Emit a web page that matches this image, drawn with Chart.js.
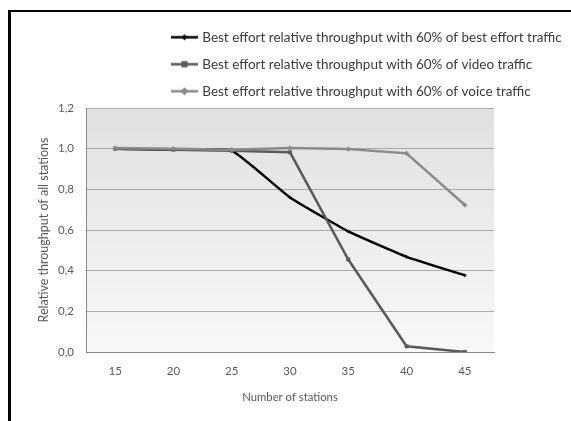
<!DOCTYPE html>
<html><head><meta charset="utf-8">
<script src="https://cdn.jsdelivr.net/npm/chart.js@4/dist/chart.umd.min.js"></script>
<style>
html,body{margin:0;padding:0;background:#fff;overflow:hidden;}
body{width:571px;height:421px;position:relative;}
#fl{position:absolute;left:8px;top:10px;width:3px;height:420px;background:#000;}
#ft{position:absolute;left:8px;top:10px;width:570px;height:2px;background:#000;}
#wrap{position:absolute;left:0;top:0;width:571px;height:421px;}
</style></head><body>
<div id="fl"></div><div id="ft"></div>
<div id="wrap"><canvas id="c" width="571" height="421"></canvas></div>
<script>
// ---- data ----
const stations = ['15', '20', '25', '30', '35', '40', '45'];
const bestEffortTraffic = [1.0, 0.995, 0.99, 0.76, 0.593, 0.468, 0.377];
const videoTraffic = [1.0, 0.995, 0.99, 0.982, 0.455, 0.028, 0.0];
const voiceTraffic = [1.003, 1.0, 0.995, 1.003, 0.998, 0.977, 0.723];
const seriesNames = [
  'Best effort relative throughput with 60% of best effort traffic',
  'Best effort relative throughput with 60% of video traffic',
  'Best effort relative throughput with 60% of voice traffic'
];
const yTickLabels = ['0,0', '0,2', '0,4', '0,6', '0,8', '1,0', '1,2'];
const xTitle = 'Number of stations';
const yTitle = 'Relative throughput of all stations';

// ---- styles ----
const colors = ['#000000', '#5a5a5a', '#8a8a8a'];
const markerStyles = ['rectRot', 'rect', 'rectRot'];
const markerRadius = [1.8, 2.8, 2.6];
const legendFontSize = 13.5;

function makeSample(color, style, r) {
  const cv = document.createElement('canvas');
  cv.width = 27; cv.height = 9;
  const ctx = cv.getContext('2d');
  ctx.strokeStyle = color; ctx.lineWidth = 2.5;
  ctx.beginPath(); ctx.moveTo(0, 4.5); ctx.lineTo(27, 4.5); ctx.stroke();
  ctx.fillStyle = color;
  ctx.save(); ctx.translate(13.5, 4.5);
  if (style === 'rectRot') ctx.rotate(Math.PI / 4);
  ctx.fillRect(-r, -r, 2 * r, 2 * r);
  ctx.restore();
  return cv;
}
const samples = colors.map((c, i) => makeSample(c, markerStyles[i], markerRadius[i] + 0.3));

const bgPlugin = {
  id: 'plotBg',
  beforeDraw(chart) {
    const {ctx, chartArea: a} = chart;
    const g = ctx.createLinearGradient(0, a.top, 0, a.bottom);
    g.addColorStop(0, '#e0e0e0');
    g.addColorStop(1, '#f8f8f8');
    ctx.save(); ctx.fillStyle = g;
    ctx.fillRect(a.left, a.top, a.right - a.left, a.bottom - a.top);
    ctx.restore();
  },
  afterLayout(chart) {
    const lg = chart.legend;
    if (lg) { lg.left = 160; lg.right = 571; lg.width = 411; }
  }
};

const seriesData = [bestEffortTraffic, videoTraffic, voiceTraffic];

new Chart(document.getElementById('c'), {
  type: 'line',
  data: {
    labels: stations,
    datasets: seriesData.map((d, i) => ({
      label: seriesNames[i],
      data: d,
      borderColor: colors[i],
      backgroundColor: colors[i],
      borderWidth: 2.5,
      pointStyle: markerStyles[i],
      pointRadius: markerRadius[i],
      pointBorderWidth: 0,
      pointBackgroundColor: colors[i],
      tension: i === 0 ? 0.12 : 0,
      order: i === 2 ? 0 : (i === 1 ? 1 : 2),
      fill: false
    }))
  },
  options: {
    responsive: false,
    animation: false,
    devicePixelRatio: 1,
    layout: { padding: { top: 17, left: 0, right: 77, bottom: 0 } },
    plugins: {
      tooltip: { enabled: false },
      legend: {
        position: 'top',
        align: 'start',
        labels: {
          usePointStyle: true,
          pointStyleWidth: 22,
          padding: 27 - legendFontSize,
          color: '#3a3a3a',
          font: { family: 'Lato', size: legendFontSize },
          generateLabels(chart) {
            return chart.data.datasets.map((ds, i) => ({
              text: ds.label,
              pointStyle: samples[i],
              fillStyle: colors[i],
              strokeStyle: colors[i],
              lineWidth: 0,
              hidden: false,
              datasetIndex: i,
              fontColor: '#3a3a3a'
            }));
          }
        }
      }
    },
    scales: {
      x: {
        offset: true,
        grid: { display: false, drawTicks: false },
        border: { display: true, color: '#8a8a8a', width: 1 },
        ticks: { color: '#595959', font: { family: 'Lato', size: 11.5 }, padding: 12 },
        title: { display: true, text: xTitle, color: '#595959', font: { family: 'Lato', size: 11.3 }, padding: { top: 0, bottom: 17 } },
        afterFit(s) { s.height = 69; }
      },
      y: {
        min: 0, max: 1.2,
        ticks: {
          stepSize: 0.2,
          color: '#595959',
          font: { family: 'Lato', size: 11.5 },
          padding: 12,
          callback: (v, idx) => yTickLabels[idx]
        },
        grid: { color: '#aaaaaa', lineWidth: 1, drawTicks: false },
        border: { display: true, color: '#8a8a8a', width: 1 },
        title: { display: true, text: yTitle, color: '#595959', font: { family: 'Lato', size: 12.5 }, padding: { top: 36, bottom: 0 } },
        afterFit(s) { s.width = 86; }
      }
    }
  },
  plugins: [bgPlugin]
});
</script>
</body></html>
